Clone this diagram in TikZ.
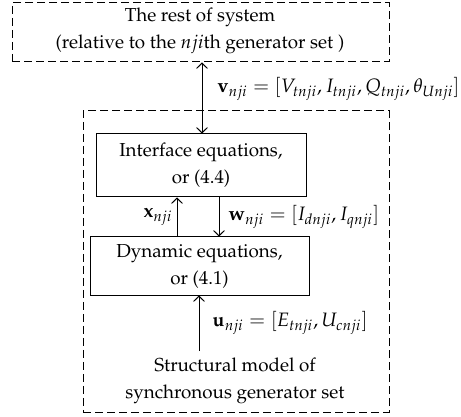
\documentclass[tikz,border=0pt]{standalone}
\usepackage{amsmath}
\usepackage[T1]{fontenc}
\usepackage{mathpazo}
\usetikzlibrary{arrows.meta}

\tikzset{
  blockbox/.style={draw, line width=0.5pt, align=center, inner sep=0pt},
  dashbox/.style={draw, line width=0.5pt, dash pattern=on 4pt off 2pt, inner sep=0pt},
  sig/.style={line width=0.5pt},
  txt/.style={font=\fontsize{9.4}{13.5}\selectfont, align=center, inner sep=0pt},
  lab/.style={font=\fontsize{9.7}{12}\selectfont, inner sep=0pt},
  tip/.tip={Straight Barb[length=2.6pt,width=5.4pt,line width=0.5pt]}
}

\begin{document}
\begin{tikzpicture}[x=0.5pt,y=-0.5pt]
  \useasboundingbox (0,0) rectangle (461,417);

  % Surrounding system (top) and generator set (outer)
  \node[dashbox, minimum width=188.5pt, minimum height=29.5pt] (rest) at (200.5,32.5) {};
  \node[txt] (resttxt) at (200,31) {The rest of system\\(relative to the $nji$th generator set )};
  \node[dashbox, minimum width=153pt, minimum height=150.5pt] (outer) at (236,261.5) {};

  % Equation blocks
  \node[blockbox, txt, minimum width=105pt, minimum height=31.5pt] (iface) at (201,165.5)
    {Interface equations,\\or (4.4)};
  \node[blockbox, txt, minimum width=109.5pt, minimum height=29pt] (dyn) at (199.5,266)
    {Dynamic equations,\\or (4.1)};

  % Structural model text
  \node[txt] (struct) at (235,381) {Structural model of\\synchronous generator set};

  % Helper coordinates
  \coordinate (vx) at (202,0);
  \coordinate (xx) at (177,0);
  \coordinate (wx) at (219,0);
  \coordinate (ubase) at (199,351);

  % Connections
  \draw[sig, tip-tip] (rest.south -| vx) -- (iface.north -| vx)
    node[pos=0.37, right=7.5pt, lab] (vlab)
    {$\mathbf{v}_{nji} = [V_{tnji}, I_{tnji}, Q_{tnji}, \theta_{Unji}]$};
  \draw[sig, -tip] (dyn.north -| xx) -- (iface.south -| xx)
    node[midway, left=2pt, lab] (xlab) {$\mathbf{x}_{nji}$};
  \draw[sig, -tip] (iface.south -| wx) -- (dyn.north -| wx)
    node[midway, right=4.5pt, lab] (wlab) {$\mathbf{w}_{nji} = [I_{dnji}, I_{qnji}]$};
  \draw[sig, -tip] (ubase) -- (dyn.south -| ubase)
    node[midway, right=6.5pt, lab] (ulab) {$\mathbf{u}_{nji} = [E_{tnji}, U_{cnji}]$};
\end{tikzpicture}
\end{document}
